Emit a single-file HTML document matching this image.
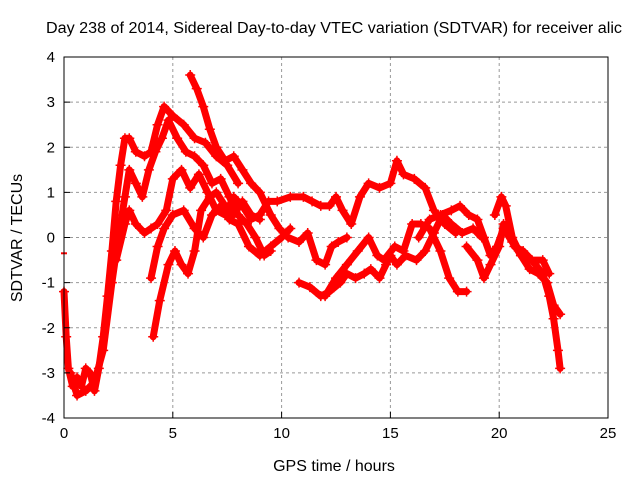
<!DOCTYPE html>
<html><head><meta charset="utf-8"><style>
body{margin:0;background:#fff}
svg{display:block;font-family:"Liberation Sans",sans-serif}
</style></head><body>
<svg id="chart" width="640" height="480" viewBox="0 0 640 480">
<text x="46" y="33" font-size="15.5" textLength="576" lengthAdjust="spacingAndGlyphs" fill="#000">Day 238 of 2014, Sidereal Day-to-day VTEC variation (SDTVAR) for receiver alic</text>
<g id="grid"></g>
<g id="series"></g>
<rect x="64" y="57" width="544" height="361" fill="none" stroke="#000" stroke-width="1"/>
<g id="ticks"></g>
<text transform="translate(22,238) rotate(-90)" text-anchor="middle" font-size="16">SDTVAR / TECUs</text>
<text x="334" y="471" text-anchor="middle" font-size="16">GPS time / hours</text>
</svg>
<script>
const xTicks=[0,5,10,15,20,25];
const yTicks=[-4,-3,-2,-1,0,1,2,3,4];
const arc1=[[0,-1.2],[0.1,-2.2],[0.2,-2.9],[0.4,-3.3],[0.6,-3.1],[0.8,-3.3],[1.0,-2.9],[1.2,-3.0],[1.4,-3.4],[1.6,-2.9],[1.8,-2.2],[2.0,-1.3],[2.2,-0.3],[2.4,0.8],[2.6,1.6],[2.8,2.2],[3.0,2.2],[3.3,1.9],[3.7,1.8],[4.0,1.9],[4.3,2.5],[4.6,2.9],[5.0,2.7],[5.5,2.5],[6.0,2.2],[6.5,2.1],[7.0,1.8],[7.5,1.6],[8.0,1.2]];
const arc2=[[0.3,-3.0],[0.6,-3.5],[1.0,-3.4],[1.4,-3.2],[1.8,-2.5],[2.2,-1.0],[2.5,0.0],[2.8,0.9],[3.0,1.5],[3.3,1.2],[3.6,0.9],[3.9,1.5],[4.2,1.9],[4.5,2.2],[4.8,2.6],[5.2,2.2],[5.6,1.9],[6.0,1.8],[6.4,1.6],[6.8,1.2],[7.2,1.3],[7.6,0.9],[8.0,0.5],[8.4,0.3],[8.8,0.0],[9.2,-0.4],[9.5,-0.3]];
const arc3=[[2.4,-0.5],[2.8,0.3],[3.0,0.6],[3.3,0.3],[3.7,0.1],[4.0,0.2],[4.3,0.3],[4.7,0.6],[5.0,1.3],[5.4,1.5],[5.8,1.1],[6.2,1.4],[6.6,1.0],[7.0,0.6],[7.4,0.5],[7.8,0.9],[8.2,0.7],[8.6,0.4],[9.0,0.5],[9.4,0.8],[9.8,0.8],[10.4,0.9],[11.0,0.9],[11.4,0.8],[11.8,0.7],[12.2,0.7],[12.5,0.9],[12.8,0.6],[13.2,0.3],[13.6,0.9],[14.0,1.2],[14.5,1.1],[15.0,1.2],[15.3,1.7],[15.6,1.4],[16.1,1.3],[16.6,1.1],[17.0,0.6],[17.5,0.3],[18.0,0.1]];
const arc4=[[4.0,-0.9],[4.3,-0.2],[4.6,0.2],[5.0,0.5],[5.5,0.6],[6.0,0.2],[6.4,0.0],[6.8,0.5],[7.2,0.7],[7.6,0.4],[8.0,0.3],[8.5,-0.2],[9.0,-0.4],[9.5,-0.2],[10.0,0.0],[10.4,0.2]];
const arc5=[[4.1,-2.2],[4.4,-1.4],[4.8,-0.6],[5.1,-0.3],[5.4,-0.6],[5.7,-0.8],[6.0,-0.3],[6.3,0.6],[6.7,0.9],[7.0,1.0],[7.4,0.7],[7.8,0.5],[8.2,0.8],[8.6,0.5],[9.0,0.4]];
const arc6=[[5.8,3.6],[6.1,3.3],[6.4,2.9],[6.7,2.4],[7.0,2.0],[7.4,1.7],[7.8,1.8],[8.2,1.5],[8.6,1.2],[9.0,1.0],[9.5,0.5],[9.9,0.2],[10.3,0.0],[10.8,-0.1],[11.2,0.1],[11.6,-0.5],[12.0,-0.6],[12.3,-0.2],[12.6,-0.1],[13.0,0.0]];
const arc7=[[10.8,-1.0],[11.3,-1.1],[11.8,-1.3],[12.2,-1.2],[12.7,-1.0],[13.0,-0.8],[13.4,-0.9],[13.8,-0.8],[14.1,-0.7],[14.5,-0.9],[14.8,-0.6],[15.0,-0.4],[15.3,-0.6],[15.7,-0.4],[16.2,-0.5],[16.6,-0.3],[17.0,0.1],[17.4,0.5],[17.8,0.3],[18.3,0.1],[18.8,0.2],[19.2,0.0]];
const arc8=[[12.0,-1.3],[12.5,-0.9],[13.0,-0.6],[13.5,-0.3],[14.0,0.0],[14.4,-0.4],[14.7,-0.5],[15.2,-0.2],[15.6,-0.3],[16.0,0.3],[16.4,0.3],[16.8,0.2],[17.3,-0.3],[17.7,-0.9],[18.1,-1.2],[18.5,-1.2]];
const arc9=[[16.3,0.0],[16.8,0.4],[17.3,0.5],[17.8,0.6],[18.2,0.7],[18.6,0.5],[19.0,0.4],[19.3,0.0],[19.6,-0.4],[19.9,-0.2],[20.2,0.2],[20.6,-0.1],[21.0,-0.4],[21.5,-0.5],[22.0,-0.8],[22.3,-1.3],[22.5,-1.8],[22.7,-2.5],[22.8,-2.9]];
const arc10=[[18.5,-0.2],[19.0,-0.5],[19.3,-0.9],[19.6,-0.6],[20.0,-0.2],[20.2,0.3],[20.4,0.2],[20.7,-0.2],[21.1,-0.3],[21.5,-0.5],[22.0,-0.5],[22.3,-0.8]];
const arc11=[[19.8,0.5],[20.1,0.9],[20.3,0.7],[20.6,0.0],[21.0,-0.4],[21.4,-0.7],[21.8,-0.8],[22.2,-1.0],[22.5,-1.5],[22.8,-1.7]];
const arcs=[arc1,arc2,arc3,arc4,arc5,arc6,arc7,arc8,arc9,arc10,arc11];

const NS='http://www.w3.org/2000/svg';
const X0=64,X1=608,Y0=418,Y1=57;
function xs(t){return X0+(t-0)/(25-0)*(X1-X0);}
function ys(v){return Y0-(v+4)/8*(Y0-Y1);}
function mk(tag,attrs,parent){const e=document.createElementNS(NS,tag);for(const k in attrs)e.setAttribute(k,attrs[k]);parent.appendChild(e);return e;}
const grid=document.getElementById('grid'),ticks=document.getElementById('ticks'),series=document.getElementById('series');
xTicks.forEach(t=>{
  const x=xs(t);
  if(t>0&&t<25){const g=mk('line',{x1:x,x2:x,y1:Y1,y2:Y0,stroke:'#999','stroke-dasharray':'3,3'},grid);
  
  }
  const tl=mk('line',{x1:x,x2:x,y1:Y0,y2:Y0-6,stroke:'#000'},ticks);
  
  
  const lb=mk('text',{x:x,y:Y0+20,'text-anchor':'middle','font-size':'15'},ticks);
  lb.textContent=t;
  
  
});
yTicks.forEach(v=>{
  const y=ys(v);
  if(v>-4&&v<4){const g=mk('line',{x1:X0,x2:X1,y1:y,y2:y,stroke:'#999','stroke-dasharray':'3,3'},grid);
  
  }
  const tl=mk('line',{x1:X0,x2:X0+6,y1:y,y2:y,stroke:'#000'},ticks);
  
  
  const lb=mk('text',{x:X0-9,y:y+5,'text-anchor':'end','font-size':'15'},ticks);
  lb.textContent=v;
  
  
});
arcs.forEach((arc,i)=>{
  const pts=arc.map(p=>xs(p[0]).toFixed(1)+','+ys(p[1]).toFixed(1)).join(' ');
  const pl=mk('polyline',{points:pts,fill:'none',stroke:'#f00','stroke-width':'7','stroke-linejoin':'round','stroke-linecap':'round'},series);
  
  
  let d='';
  arc.forEach(p=>{const x=xs(p[0]),y=ys(p[1]);d+=`M${x-5},${y}h10M${x},${y-5}v10`;});
  const m=mk('path',{d:d,stroke:'#f00','stroke-width':'1.5',fill:'none'},series);
  
  
});
const d0=mk('line',{x1:xs(0)-3,x2:xs(0)+3,y1:ys(-0.35),y2:ys(-0.35),stroke:'#f00','stroke-width':'2'},series);


</script>
</body></html>
